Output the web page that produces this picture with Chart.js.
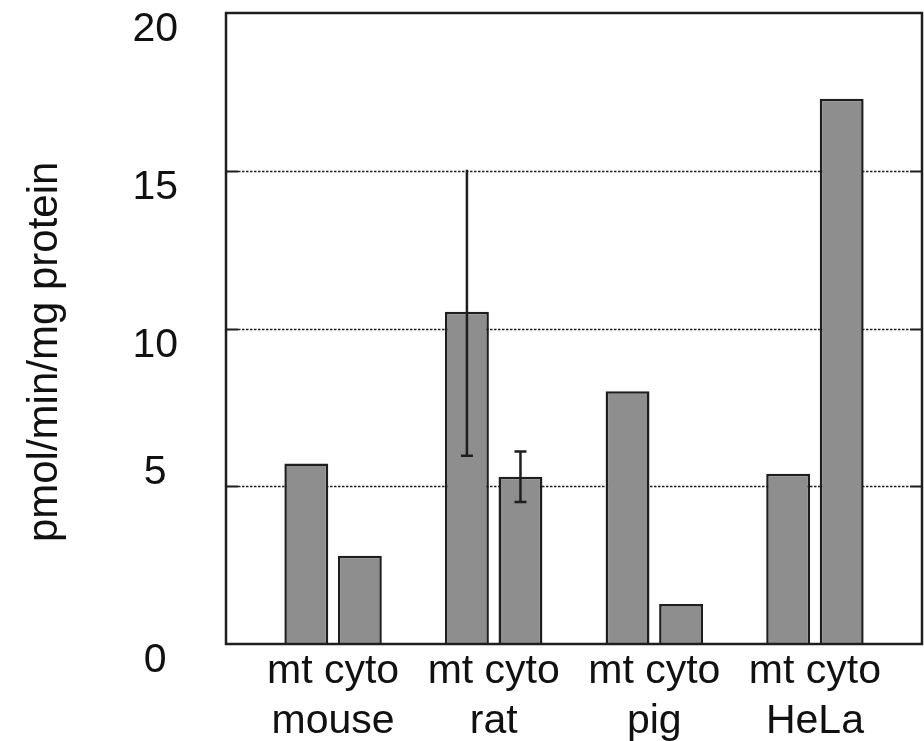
<!DOCTYPE html>
<html><head><meta charset="utf-8">
<script src="https://cdn.jsdelivr.net/npm/chart.js@4/dist/chart.umd.min.js"></script>
<style>html,body{margin:0;padding:0;background:#fff}#wrap{width:924px;height:741px;position:relative}</style>
</head><body><div id="wrap"><canvas id="c"></canvas></div>
<script>
const groups = ['mouse', 'rat', 'pig', 'HeLa'];
const fractions = ['mt', 'cyto'];
const mtValues = [5.72, 10.53, 8.01, 5.40];
const cytoValues = [2.80, 5.30, 1.27, 17.28];
const mtErrLow = [null, 5.97, null, null];
const mtErrHigh = [null, 15.03, null, null];
const cytoErrLow = [null, 4.50, null, null];
const cytoErrHigh = [null, 6.10, null, null];
const yTicks = [0, 5, 10, 15, 20];
const yTitle = 'pmol/min/mg protein';

// Build slot table: empty slot, mt, cyto, empty slot, ...
const slotLabels = [], slotValues = [], slotLow = [], slotHigh = [], groupCenters = [];
function pushSlot(l, v, lo, hi) { slotLabels.push(l); slotValues.push(v); slotLow.push(lo); slotHigh.push(hi); }
pushSlot('', null, null, null);
groups.forEach((g, i) => {
  const start = slotLabels.length;
  pushSlot(fractions[0], mtValues[i], mtErrLow[i], mtErrHigh[i]);
  pushSlot(fractions[1], cytoValues[i], cytoErrLow[i], cytoErrHigh[i]);
  groupCenters.push(start + 1);
  pushSlot('', null, null, null);
});

const FONT = "'Liberation Sans', Arial, sans-serif";
const INK = '#1e1e1e';

const decor = {
  id: 'decor',
  beforeDatasetsDraw(chart) {
    const ctx = chart.ctx, a = chart.chartArea, y = chart.scales.y;
    ctx.save();
    yTicks.forEach(v => {
      if (v === y.min || v === y.max) return;
      const py = Math.round(y.getPixelForValue(v)) + 0.5;
      ctx.strokeStyle = INK;
      ctx.lineWidth = 1.5;
      ctx.setLineDash([2.5, 1.5]);
      ctx.beginPath(); ctx.moveTo(a.left + 12, py); ctx.lineTo(a.right - 12, py); ctx.stroke();
      ctx.setLineDash([]);
      ctx.lineWidth = 2;
      ctx.beginPath(); ctx.moveTo(a.left, py); ctx.lineTo(a.left + 12, py);
      ctx.moveTo(a.right - 12, py); ctx.lineTo(a.right, py); ctx.stroke();
    });
    ctx.restore();
  },
  afterDatasetsDraw(chart) {
    const ctx = chart.ctx, a = chart.chartArea, x = chart.scales.x, y = chart.scales.y;
    ctx.save();
    ctx.strokeStyle = INK;
    ctx.lineWidth = 2.5;
    slotLabels.forEach((l, i) => {
      if (slotLow[i] == null) return;
      const px = x.getPixelForValue(i);
      const y1 = y.getPixelForValue(slotLow[i]), y2 = y.getPixelForValue(slotHigh[i]);
      ctx.beginPath();
      ctx.moveTo(px, y1); ctx.lineTo(px, y2);
      ctx.moveTo(px - 6, y1); ctx.lineTo(px + 6, y1);
      if (slotHigh[i] < y.max * 0.7) { ctx.moveTo(px - 6, y2); ctx.lineTo(px + 6, y2); }
      ctx.stroke();
    });
    ctx.lineWidth = 2.5;
    ctx.strokeRect(a.left, a.top, a.right - a.left, a.bottom - a.top);
    ctx.restore();
  }
};

new Chart(document.getElementById('c'), {
  type: 'bar',
  data: {
    labels: slotLabels,
    datasets: [{
      data: slotValues,
      xAxisID: 'x',
      yAxisID: 'y',
      backgroundColor: '#8e8e8e',
      borderColor: INK,
      borderWidth: 2.5,
      barPercentage: 0.82,
      categoryPercentage: 1.0
    }]
  },
  options: {
    responsive: true,
    maintainAspectRatio: false,
    animation: false,
    events: [],
    layout: { padding: { top: 13, right: 2, left: 0, bottom: 0 } },
    plugins: { legend: { display: false }, tooltip: { enabled: false } },
    scales: {
      x: { display: false, offset: true },
      xg: {
        type: 'linear', position: 'bottom', min: 0, max: slotLabels.length,
        offset: false,
        grid: { display: false, offset: false, drawTicks: false }, border: { display: false },
        afterBuildTicks: s => { s.ticks = groupCenters.map(v => ({ value: v })); },
        ticks: {
          font: { family: FONT, size: 41, lineHeight: 1.22 }, color: '#111',
          padding: 3, maxRotation: 0, autoSkip: false,
          callback: (v, i) => [fractions.join(' '), groups[i]]
        },
        afterFit: s => { s.height = 97; }
      },
      y: {
        min: 0, max: 20,
        afterBuildTicks: s => { s.ticks = yTicks.map(v => ({ value: v })); },
        grid: { display: false, drawTicks: true, tickLength: 48 }, border: { display: false },
        ticks: {
          crossAlign: 'center', padding: 0, labelOffset: 17,
          font: ctx => ({ family: FONT, size: 41, lineHeight: (ctx.tick && ctx.tick.value === 5) ? 1.51 : 0.55 }),
          color: '#111',
          callback: v => v === 5 ? [String(v), ''] : String(v)
        },
        title: {
          display: true, text: yTitle + '    ', color: '#111',
          font: { family: FONT, size: 42 }, padding: { top: 20, bottom: 0 }
        },
        afterFit: s => { s.width = 226; }
      }
    }
  },
  plugins: [decor]
});
</script></body></html>
